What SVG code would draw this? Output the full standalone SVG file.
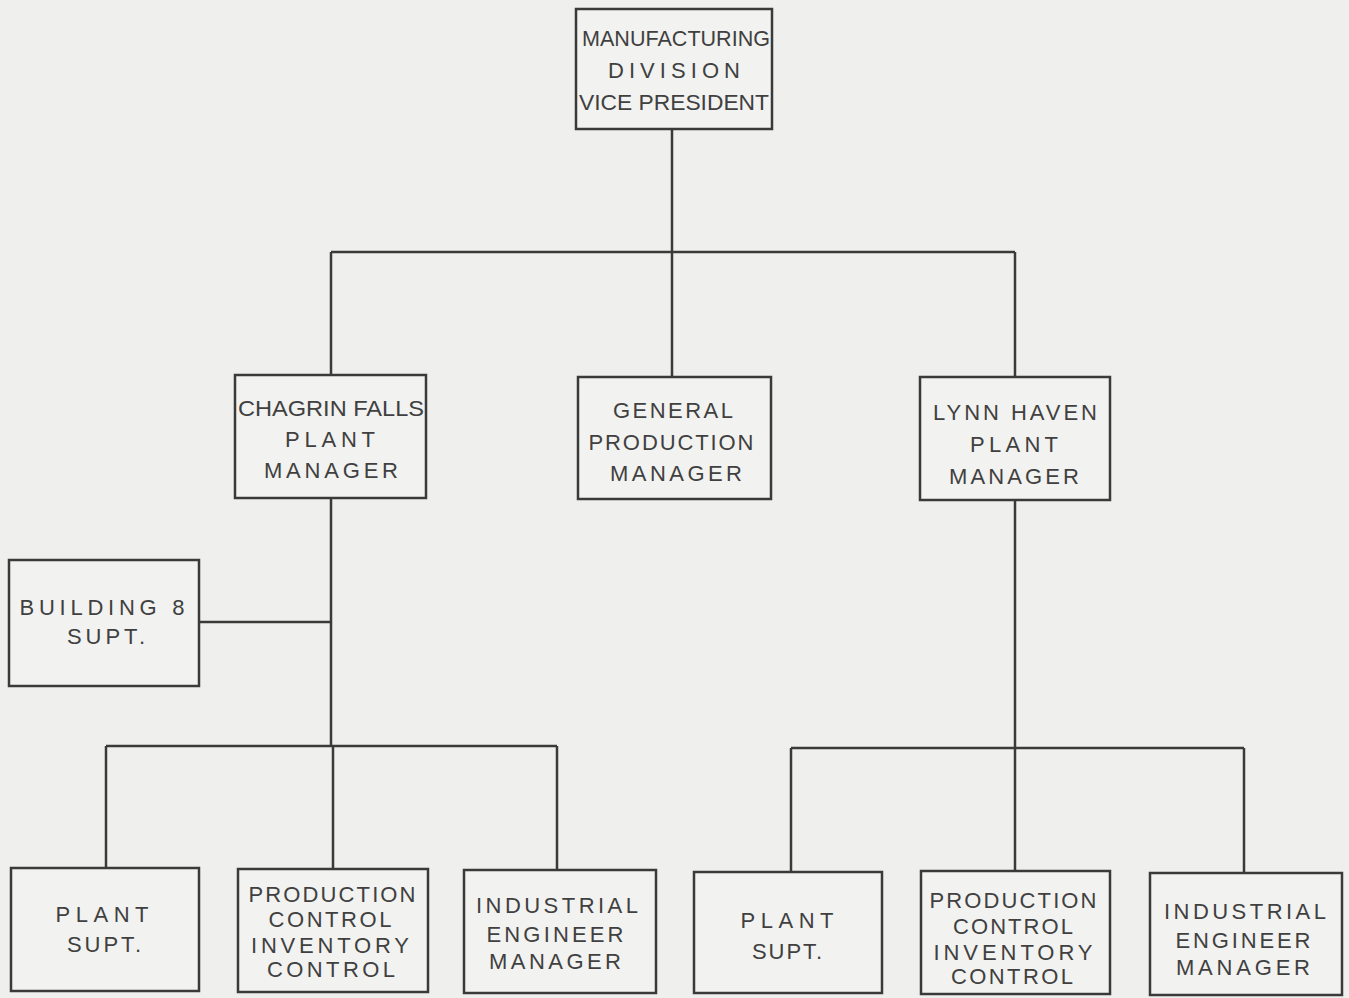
<svg xmlns="http://www.w3.org/2000/svg" width="1349" height="998" viewBox="0 0 1349 998">
<style>
.bg{fill:#efefed}
.box{fill:#f2f2f0;stroke:#3a3a3a;stroke-width:2.5}
.ln{fill:none;stroke:#3a3a3a;stroke-width:2.5}
text{font-family:"Liberation Sans",Arial,sans-serif;font-size:22px;fill:#404040;text-anchor:middle}
</style>
<rect class="bg" x="0" y="0" width="1349" height="998"/>
<g id="connectors">
<path class="ln" d="M672 129V377M331 252H1015M331 252V375M1015 252V377"/>
<path class="ln" d="M331 498V746M199 622H331M106 746H557M106 746V868M333 746V869M557 746V870"/>
<path class="ln" d="M1015 500V748M791 748H1244M791 748V872M1015 748V871M1244 748V873"/>
</g>
<g id="vp"><rect class="box" x="576" y="9" width="196" height="120"/>
<text x="676" y="46" textLength="188" lengthAdjust="spacingAndGlyphs">MANUFACTURING</text>
<text x="674" y="78" textLength="132" lengthAdjust="spacing">DIVISION</text>
<text x="674" y="110" textLength="190" lengthAdjust="spacingAndGlyphs">VICE PRESIDENT</text></g>
<g id="chagrin"><rect class="box" x="235" y="375" width="191" height="123"/>
<text x="331" y="416" textLength="186" lengthAdjust="spacingAndGlyphs">CHAGRIN FALLS</text>
<text x="330" y="447" textLength="90" lengthAdjust="spacing">PLANT</text>
<text x="331" y="478" textLength="134" lengthAdjust="spacing">MANAGER</text></g>
<g id="general"><rect class="box" x="578" y="377" width="193" height="122"/>
<text x="673" y="418" textLength="120" lengthAdjust="spacing">GENERAL</text>
<text x="671" y="450" textLength="165" lengthAdjust="spacing">PRODUCTION</text>
<text x="676" y="481" textLength="132" lengthAdjust="spacing">MANAGER</text></g>
<g id="lynn"><rect class="box" x="920" y="377" width="190" height="123"/>
<text x="1015" y="420" textLength="164" lengthAdjust="spacing">LYNN HAVEN</text>
<text x="1014" y="452" textLength="88" lengthAdjust="spacing">PLANT</text>
<text x="1014" y="484" textLength="130" lengthAdjust="spacing">MANAGER</text></g>
<g id="building8"><rect class="box" x="9" y="560" width="190" height="126"/>
<text x="102" y="615" textLength="165" lengthAdjust="spacing">BUILDING 8</text>
<text x="106" y="644" textLength="78" lengthAdjust="spacing">SUPT.</text></g>
<g id="cf-plant-supt"><rect class="box" x="11" y="868" width="188" height="123"/>
<text x="102" y="922" textLength="93" lengthAdjust="spacing">PLANT</text>
<text x="104" y="952" textLength="74" lengthAdjust="spacing">SUPT.</text></g>
<g id="cf-prod-control"><rect class="box" x="238" y="869" width="190" height="123"/>
<text x="332" y="902" textLength="167" lengthAdjust="spacing">PRODUCTION</text>
<text x="330" y="927" textLength="123" lengthAdjust="spacing">CONTROL</text>
<text x="330" y="953" textLength="158" lengthAdjust="spacing">INVENTORY</text>
<text x="331" y="977" textLength="128" lengthAdjust="spacing">CONTROL</text></g>
<g id="cf-ie-manager"><rect class="box" x="464" y="870" width="192" height="123"/>
<text x="557" y="913" textLength="162" lengthAdjust="spacing">INDUSTRIAL</text>
<text x="555" y="942" textLength="137" lengthAdjust="spacing">ENGINEER</text>
<text x="555" y="969" textLength="132" lengthAdjust="spacing">MANAGER</text></g>
<g id="lh-plant-supt"><rect class="box" x="694" y="872" width="188" height="121"/>
<text x="787" y="928" textLength="93" lengthAdjust="spacing">PLANT</text>
<text x="787" y="959" textLength="70" lengthAdjust="spacing">SUPT.</text></g>
<g id="lh-prod-control"><rect class="box" x="921" y="871" width="189" height="123"/>
<text x="1013" y="908" textLength="167" lengthAdjust="spacing">PRODUCTION</text>
<text x="1013" y="934" textLength="120" lengthAdjust="spacing">CONTROL</text>
<text x="1013" y="960" textLength="159" lengthAdjust="spacing">INVENTORY</text>
<text x="1012" y="984" textLength="122" lengthAdjust="spacing">CONTROL</text></g>
<g id="lh-ie-manager"><rect class="box" x="1150" y="873" width="192" height="122"/>
<text x="1245" y="919" textLength="162" lengthAdjust="spacing">INDUSTRIAL</text>
<text x="1243" y="948" textLength="135" lengthAdjust="spacing">ENGINEER</text>
<text x="1243" y="975" textLength="134" lengthAdjust="spacing">MANAGER</text></g>
</svg>
